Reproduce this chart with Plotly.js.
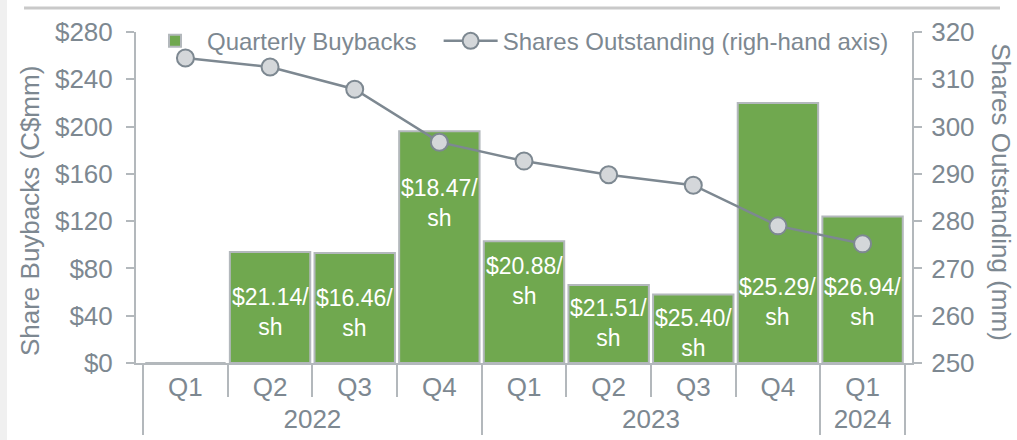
<!DOCTYPE html>
<html>
<head>
<meta charset="utf-8">
<script src="https://cdn.plot.ly/plotly-3.0.1.min.js"></script>
<style>html,body{margin:0;padding:0;background:#fff;}#chart{width:1017px;height:440px;}</style>
</head>
<body>
<div id="chart"></div>
<script>
const years = ['2022','2022','2022','2022','2023','2023','2023','2023','2024'];
const quarters = ['Q1','Q2','Q3','Q4','Q1','Q2','Q3','Q4','Q1'];
const buybacks = [0, 94, 93, 196, 103, 66, 58, 220, 124];
const sharesOutstanding = [314.5, 312.6, 307.9, 296.7, 292.7, 289.8, 287.6, 279.0, 275.2];
const perShareLabels = ['', '$21.14/', '$16.46/', '$18.47/', '$20.88/', '$21.51/', '$25.40/', '$25.29/', '$26.94/'];
const labelAnchorY = [null, 43, 42, 135, 69, 34, 25, 52, 52];

const GRAY = '#7d8891';
const AXIS = '#b3b8bc';
const FONT = '"Liberation Sans", Arial, sans-serif';

const bars = {
  type: 'bar',
  name: 'Quarterly Buybacks',
  x: [years, quarters],
  y: buybacks,
  marker: {color: '#70a84f', line: {color: AXIS, width: 2}},
  legend: 'legend',
  hoverinfo: 'skip'
};
const line = {
  type: 'scatter',
  mode: 'lines+markers',
  name: 'Shares Outstanding (righ-hand axis)',
  x: [years, quarters],
  y: sharesOutstanding,
  yaxis: 'y2',
  line: {color: GRAY, width: 2.5},
  marker: {size: 17, color: '#d4d7da', line: {color: GRAY, width: 2}},
  legend: 'legend2',
  hoverinfo: 'skip'
};

const annotations = [];
perShareLabels.forEach((t, i) => {
  if (!t) return;
  annotations.push({
    x: i, y: labelAnchorY[i], xref: 'x', yref: 'y',
    text: t + '<br>sh', showarrow: false,
    font: {family: FONT, size: 23, color: '#ffffff'}
  });
});
annotations.push({
  xref: 'paper', yref: 'paper', x: -0.1366, y: 0.459,
  xanchor: 'center', yanchor: 'middle',
  text: 'Share Buybacks (C$mm)', textangle: -90, showarrow: false,
  font: {family: FONT, size: 26, color: GRAY}
});
annotations.push({
  xref: 'paper', yref: 'paper', x: 1.1145, y: 0.5166,
  xanchor: 'center', yanchor: 'middle',
  text: 'Shares Outstanding (mm)', textangle: 90, showarrow: false,
  font: {family: FONT, size: 26, color: GRAY}
});

const legendBase = {
  orientation: 'h', y: 1.04, xanchor: 'left', yanchor: 'top',
  bgcolor: 'rgba(0,0,0,0)', font: {family: FONT, size: 24, color: GRAY},
  itemwidth: 54
};

const layout = {
  width: 1017, height: 440,
  margin: {l: 136, r: 105, t: 32, b: 77},
  paper_bgcolor: '#ffffff', plot_bgcolor: '#ffffff',
  font: {family: FONT, color: GRAY},
  bargap: 0.05,
  showlegend: true,
  legend: Object.assign({}, legendBase, {x: 0.009}),
  legend2: Object.assign({}, legendBase, {x: 0.39}),
  xaxis: {
    type: 'multicategory',
    showline: true, linecolor: AXIS, linewidth: 2,
    ticks: 'outside', ticklen: 32, tickcolor: AXIS, tickwidth: 2,
    showdividers: true, dividercolor: AXIS, dividerwidth: 2,
    tickfont: {family: FONT, size: 26, color: GRAY},
    showgrid: false, zeroline: false
  },
  yaxis: {
    range: [0, 280], dtick: 40, tickprefix: '$',
    showgrid: false, zeroline: false,
    showline: true, linecolor: AXIS, linewidth: 2,
    ticks: 'outside', ticklen: 8, tickcolor: AXIS, tickwidth: 2,
    ticklabelstandoff: 8,
    tickfont: {family: FONT, size: 26, color: GRAY}
  },
  yaxis2: {
    overlaying: 'y', side: 'right',
    range: [250, 320], dtick: 10,
    showgrid: false, zeroline: false,
    showline: true, linecolor: AXIS, linewidth: 2,
    ticks: 'outside', ticklen: 8, tickcolor: AXIS, tickwidth: 2,
    ticklabelstandoff: 4,
    tickfont: {family: FONT, size: 26, color: GRAY}
  },
  annotations: annotations,
  shapes: [
    {type: 'line', xref: 'paper', yref: 'paper', x0: -0.1443, x1: 1.1134, y0: 1.0725, y1: 1.0725,
     line: {color: '#c9c9c9', width: 3}},
    {type: 'rect', xref: 'paper', yref: 'paper', x0: -0.1753, x1: -0.1662, y0: -0.24, y1: 1.1,
     fillcolor: '#f0f0f0', line: {width: 0}}
  ]
};

Plotly.newPlot('chart', [bars, line], layout, {displayModeBar: false, staticPlot: true});
</script>
</body>
</html>
